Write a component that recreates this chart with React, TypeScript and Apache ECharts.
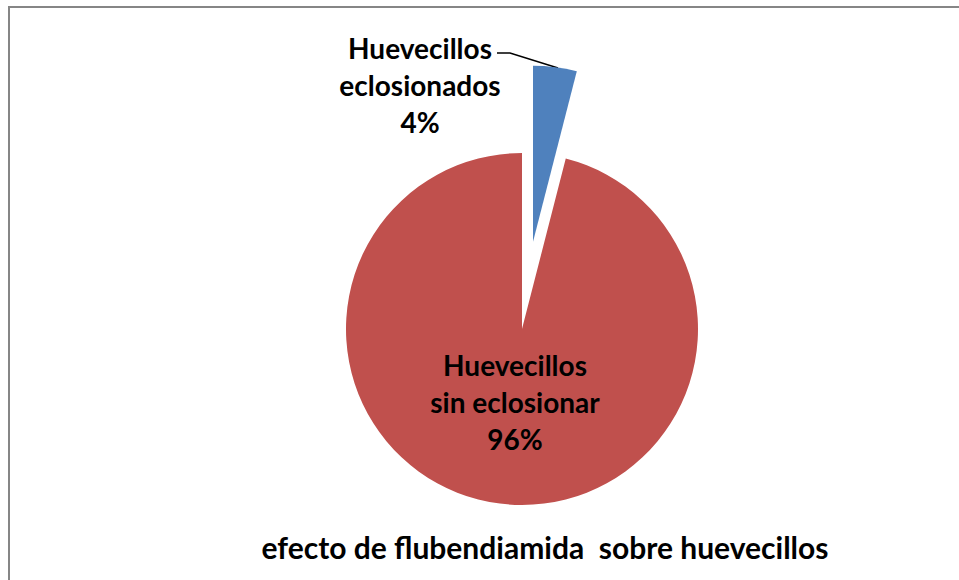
import React, { useEffect, useRef } from "react";
import * as echarts from "echarts";

const categories = ["Huevecillos eclosionados", "Huevecillos sin eclosionar"];
const values = [4, 96];
const colors = ["#4F81BD", "#C0504D"];
const chartTitle = "efecto de flubendiamida  sobre huevecillos";

export default function App() {
  const ref = useRef<HTMLDivElement>(null);
  useEffect(() => {
    if (!ref.current) return;
    const chart = echarts.init(ref.current, undefined, { renderer: "svg" });
    const font = "Lato, 'Open Sans', sans-serif";
    const total = values.reduce((a, b) => a + b, 0);
    const cx = 522;
    const cy = 329;
    const explode = 88;
    // bisector of the first (exploded) slice, starting at 12 o'clock clockwise
    const midDeg = 90 - (360 * values[0]) / total / 2;
    const ex = cx + explode * Math.cos((midDeg * Math.PI) / 180);
    const ey = cy - explode * Math.sin((midDeg * Math.PI) / 180);

    const fmt = (p: any) =>
      p.name.replace(" ", "\n") + "\n" + Math.round(p.percent) + "%";
    const labelBase = {
      show: true,
      formatter: fmt,
      fontFamily: font,
      fontSize: 28,
      fontWeight: "bold",
      color: "#000",
      lineHeight: 37,
      align: "center",
    };
    const mkData = (keep: number) =>
      categories.map((c, i) => ({
        name: c,
        value: values[i],
        itemStyle: {
          color: i === keep ? colors[i] : "rgba(0,0,0,0)",
        },
        label: i === keep ? { ...labelBase } : { show: false },
        labelLine: {
          show: i === keep && keep === 0,
          lineStyle: { color: "#000", width: 1.5 },
        },
      }));

    chart.setOption({
      animation: false,
      backgroundColor: "#ffffff",
      graphic: [
        {
          type: "rect",
          shape: { x: 9, y: 7, width: 980, height: 600 },
          style: { fill: "none", stroke: "#868686", lineWidth: 2 },
          silent: true,
        },
        {
          type: "text",
          x: 545,
          y: 547,
          style: {
            text: chartTitle,
            fontFamily: font,
            fontSize: 30,
            fontWeight: "bold",
            fill: "#000",
            align: "center",
            verticalAlign: "middle",
          },
        },
      ],
      series: [
        {
          type: "pie",
          name: "red",
          center: [cx, cy],
          radius: 176,
          startAngle: 90,
          clockwise: true,
          avoidLabelOverlap: false,
          silent: true,
          emphasis: { disabled: true },
          label: { position: "inside" },
          data: mkData(1),
          labelLayout: () => ({
            x: 515,
            y: 402,
            align: "center",
            verticalAlign: "middle",
          }),
        },
        {
          type: "pie",
          name: "blue",
          center: [ex, ey],
          radius: 176,
          startAngle: 90,
          clockwise: true,
          avoidLabelOverlap: false,
          silent: true,
          emphasis: { disabled: true },
          label: { position: "outside" },
          data: mkData(0),
          labelLayout: () => ({
            x: 420,
            y: 85,
            align: "center",
            verticalAlign: "middle",
            labelLinePoints: [
              [497, 53],
              [510, 53],
              [558, 68],
            ],
          }),
        },
      ],
    });
    return () => chart.dispose();
  }, []);
  return (
    <div
      ref={ref}
      style={{ position: "fixed", left: 0, top: 0, width: 959, height: 580 }}
    />
  );
}
